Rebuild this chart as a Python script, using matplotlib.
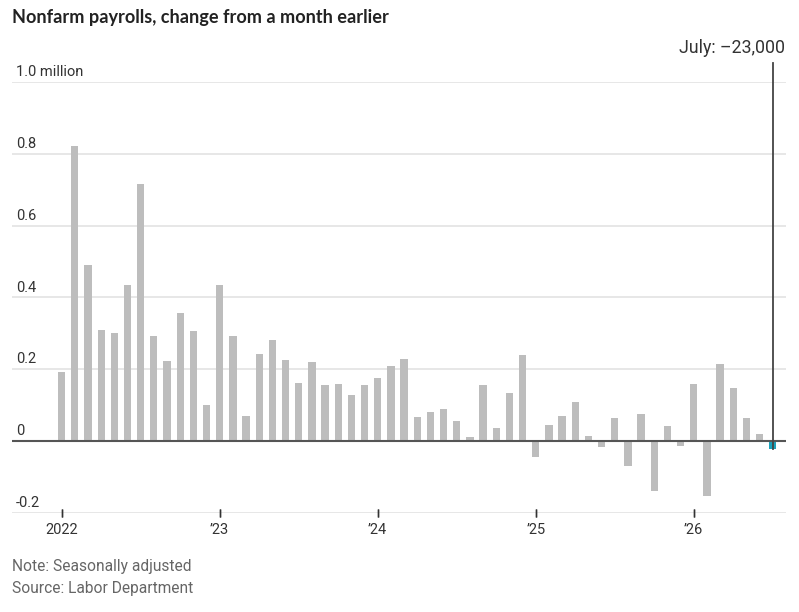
import matplotlib
matplotlib.use("Agg")
import matplotlib.pyplot as plt
from matplotlib import font_manager as fm

months = list(range(55))  # Jan 2022 .. Jul 2026
values = [0.191, 0.822, 0.491, 0.310, 0.302, 0.435, 0.717, 0.292, 0.223, 0.358, 0.306, 0.101,
          0.435, 0.292, 0.070, 0.243, 0.282, 0.226, 0.163, 0.219, 0.157, 0.160, 0.129, 0.157,
          0.177, 0.209, 0.229, 0.066, 0.080, 0.090, 0.056, 0.010, 0.157, 0.035, 0.135, 0.240,
          -0.045, 0.045, 0.069, 0.110, 0.013, -0.018, 0.065, -0.070, 0.076, -0.139, 0.041, -0.014,
          0.160, -0.153, 0.215, 0.148, 0.065, 0.020, -0.023]
xtick_pos = [0, 12, 24, 36, 48]
xtick_labels = ["2022", "\u201923", "\u201924", "\u201925", "\u201926"]
ytick_vals = [1.0, 0.8, 0.6, 0.4, 0.2, 0.0, -0.2]
ytick_labels = ["1.0 million", "0.8", "0.6", "0.4", "0.2", "0", "-0.2"]

avail = {f.name for f in fm.fontManager.ttflist}
narrow = "Liberation Sans Narrow" if "Liberation Sans Narrow" in avail else "Roboto"
plt.rcParams['font.family'] = [narrow, 'DejaVu Sans']

W, H = 799, 612
fig = plt.figure(figsize=(W/100, H/100), dpi=100)
ax = fig.add_axes([12/W, 1-512.8/H, (786-12)/W, (512.8-82.2)/H])
ax.set_xlim(-3.77, 55.0)
ax.set_ylim(-0.2, 1.0)
for s in ax.spines.values():
    s.set_visible(False)
ax.set_xticks([]); ax.set_yticks([])

for v in ytick_vals:
    ax.axhline(v, color="#e3e3e3", lw=1.2, zorder=0)
ax.axhline(0, color="#555555", lw=1.5, zorder=3)

colors = ["#bdbdbd"] * (len(values) - 1) + ["#1ba2bb"]
ax.bar(months, values, width=0.555, color=colors, zorder=2)

# highlight line
ax.plot([months[-1], months[-1]], [values[-1], 1.053], color="#444444", lw=1.3,
        zorder=4, clip_on=False)
fig.text(785/W, 1-48/H, "July: \u201323,000", ha="right", va="center",
         fontsize=12.8, color="#333333")

for v, lab in zip(ytick_vals, ytick_labels):
    ax.annotate(lab, (0, v), xycoords=("axes fraction", "data"), xytext=(3, 2),
                textcoords="offset points", ha="left", va="bottom",
                fontsize=10.5, color="#333333")

for p, lab in zip(xtick_pos, xtick_labels):
    ax.plot([p, p], [-0.2, -0.2], color="#333333", marker="|", markersize=6,
            clip_on=False)
    ax.annotate(lab, (p, -0.2), xycoords="data", xytext=(0, -7),
                textcoords="offset points", ha="center", va="top",
                fontsize=10.5, color="#333333")

fig.text(12/W, 1-17/H, "Nonfarm payrolls, change from a month earlier",
         ha="left", va="center", fontsize=13.1, fontweight="bold",
         color="#222222", family=["Lato", "DejaVu Sans"])
fig.text(12/W, 1-567/H, "Note: Seasonally adjusted", ha="left", va="center",
         fontsize=11.2, color="#666666")
fig.text(12/W, 1-588/H, "Source: Labor Department", ha="left", va="center",
         fontsize=11.2, color="#666666")

fig.savefig("out.png", dpi=100)
